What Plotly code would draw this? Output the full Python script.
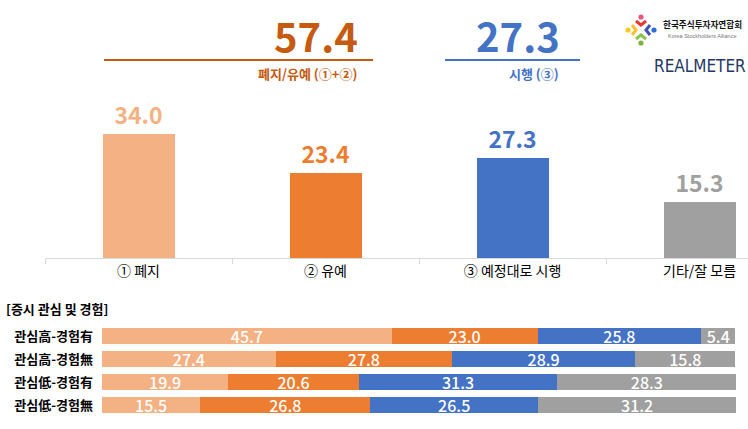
import plotly.graph_objects as go

W, H = 748, 429

# ---- data ----
categories = ["① 폐지", "② 유예", "③ 예정대로 시행", "기타/잘 모름"]
overall = [34.0, 23.4, 27.3, 15.3]

groups = ["관심高-경험有", "관심高-경험無", "관심低-경험有", "관심低-경험無"]
seg_abolish = [45.7, 27.4, 19.9, 15.5]
seg_delay = [23.0, 27.8, 20.6, 26.8]
seg_implement = [25.8, 28.9, 31.3, 26.5]
seg_other = [5.4, 15.8, 28.3, 31.2]

combined_value = 57.4
combined_label = "폐지/유예 (①+②)"
implement_value = 27.3
implement_label = "시행 (③)"
section_title = "[증시 관심 및 경험]"

# ---- styles ----
C_PEACH = "#F4B183"
C_ORANGE = "#ED7D31"
C_BLUE = "#4472C4"
C_GRAY = "#A0A0A0"
C_DARKOR = "#C55A11"
colors = [C_PEACH, C_ORANGE, C_BLUE, C_GRAY]
FONT = "Noto Sans CJK KR"


def px(x):
    return x / W


def py(y):
    return 1 - y / H


fig = go.Figure()

# top bar chart
fig.add_trace(go.Bar(
    x=categories, y=overall, marker=dict(color=colors, line=dict(width=0)),
    width=0.385, text=[f"{v:.1f}" for v in overall], textposition="outside",
    textfont=dict(size=23, color=colors, family=FONT, weight="bold"),
    cliponaxis=False, xaxis="x", yaxis="y", showlegend=False, hoverinfo="skip",
))

# bottom stacked bars
for vals, col in zip([seg_abolish, seg_delay, seg_implement, seg_other], colors):
    fig.add_trace(go.Bar(
        y=groups, x=vals, orientation="h", width=0.7,
        marker=dict(color=col, line=dict(width=0)),
        text=[f"{v:.1f}" for v in vals], textposition="inside", textangle=0,
        insidetextanchor="middle", constraintext="none",
        textfont=dict(size=16, color="white", family=FONT, weight=500),
        xaxis="x2", yaxis="y2", showlegend=False, hoverinfo="skip",
    ))

base_y = 258
top_y = 90
scale = 3.65

fig.update_layout(
    width=W, height=H, margin=dict(l=0, r=0, t=0, b=0),
    paper_bgcolor="white", plot_bgcolor="white",
    barmode="stack", font=dict(family=FONT, color="black"),
    xaxis=dict(domain=[px(45), 1], range=[-0.5, 3.259], type="category",
               showline=True, linecolor="#D9D9D9", linewidth=1,
               ticks="outside", tickson="boundaries", ticklen=5, tickcolor="#D9D9D9",
               tickfont=dict(size=14, color="black", family=FONT),
               showgrid=False, zeroline=False, anchor="y", fixedrange=True),
    yaxis=dict(domain=[py(base_y), py(top_y)], range=[0, (base_y - top_y) / scale],
               visible=False, anchor="x", fixedrange=True),
    xaxis2=dict(domain=[px(102), px(736)], range=[0, 100], visible=False,
                anchor="y2", fixedrange=True),
    yaxis2=dict(domain=[py(416.5), py(324.5)], autorange="reversed", anchor="x2",
                type="category", tickvals=groups, ticktext=[f"<b>{g}</b>" for g in groups],
                tickfont=dict(size=13, color="black", family=FONT),
                ticklabelstandoff=8, showline=False, ticks="", showgrid=False,
                zeroline=False, fixedrange=True),
)

ann = []
# header numbers
ann.append(dict(x=px(360), y=py(35), xref="paper", yref="paper", xanchor="right", yanchor="middle",
                text=f"<b>{combined_value:.1f}</b>", showarrow=False,
                font=dict(size=40, color=C_DARKOR, family=FONT)))
ann.append(dict(x=px(359), y=py(74), xref="paper", yref="paper", xanchor="right", yanchor="middle",
                text=f"<b>{combined_label}</b>", showarrow=False,
                font=dict(size=13, color=C_DARKOR, family=FONT)))
ann.append(dict(x=px(562), y=py(35), xref="paper", yref="paper", xanchor="right", yanchor="middle",
                text=f"<b>{implement_value:.1f}</b>", showarrow=False,
                font=dict(size=40, color=C_BLUE, family=FONT)))
ann.append(dict(x=px(561), y=py(74), xref="paper", yref="paper", xanchor="right", yanchor="middle",
                text=f"<b>{implement_label}</b>", showarrow=False,
                font=dict(size=13, color=C_BLUE, family=FONT)))
# section title
ann.append(dict(x=px(4), y=py(308), xref="paper", yref="paper", xanchor="left", yanchor="middle",
                text=f"<b>{section_title}</b>", showarrow=False,
                font=dict(size=13, color="black", family=FONT)))
# logo texts
ann.append(dict(x=px(702), y=py(24), xref="paper", yref="paper", xanchor="center", yanchor="middle",
                text="<b>한국주식투자자연합회</b>", showarrow=False,
                font=dict(size=8.6, color="#111111", family=FONT)))
ann.append(dict(x=px(702), y=py(36), xref="paper", yref="paper", xanchor="center", yanchor="middle",
                text="Korea Stockholders Alliance", showarrow=False,
                font=dict(size=5.5, color="#777777", family="Liberation Sans")))
ann.append(dict(x=px(700), y=py(66), xref="paper", yref="paper", xanchor="center", yanchor="middle",
                text="REALMETER", showarrow=False,
                font=dict(size=17, color="#1F3864", family="DejaVu Sans Condensed, Liberation Sans Narrow, Liberation Sans")))
fig.update_layout(annotations=ann)

shapes = [
    dict(type="line", xref="paper", yref="paper", x0=px(104), x1=px(373), y0=py(60), y1=py(60),
         line=dict(color=C_DARKOR, width=2)),
    dict(type="line", xref="paper", yref="paper", x0=px(445), x1=px(580), y0=py(60), y1=py(60),
         line=dict(color=C_BLUE, width=2)),
]


def dot(cx, cy, r, col):
    return dict(type="circle", xref="paper", yref="paper", x0=px(cx - r), x1=px(cx + r),
                y0=py(cy + r), y1=py(cy - r), fillcolor=col, line=dict(width=0))


def chev(points, col):
    path = "M " + " L ".join(f"{px(x)},{py(y)}" for x, y in points)
    return dict(type="path", xref="paper", yref="paper", path=path,
                line=dict(color=col, width=3))


cx, cy = 641, 30
shapes += [
    dot(cx, cy - 13, 2.6, "#E8547A"),
    chev([(cx - 5, cy - 9), (cx, cy - 5), (cx + 5, cy - 9)], "#E53935"),
    dot(cx + 13, cy, 2.6, "#2E6FD8"),
    chev([(cx + 9, cy - 5), (cx + 5, cy), (cx + 9, cy + 5)], "#3F51B5"),
    dot(cx, cy + 13, 2.6, "#7CB342"),
    chev([(cx - 5, cy + 9), (cx, cy + 5), (cx + 5, cy + 9)], "#8BC34A"),
    dot(cx - 13, cy, 2.6, "#F9C824"),
    chev([(cx - 9, cy - 5), (cx - 5, cy), (cx - 9, cy + 5)], "#FBC02D"),
]
fig.update_layout(shapes=shapes)

fig.write_html("out.html", config={"displayModeBar": False},
               post_script="document.body.style.margin='0';document.body.style.overflow='hidden';")
